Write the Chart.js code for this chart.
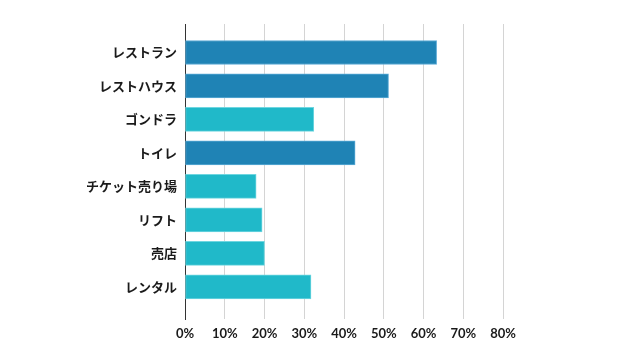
<!DOCTYPE html>
<html>
<head>
<meta charset="utf-8">
<script src="https://cdn.jsdelivr.net/npm/chart.js@4.4.1/dist/chart.umd.min.js"></script>
<style>
  html, body { margin: 0; padding: 0; background: #ffffff; }
  #wrap { width: 640px; height: 350px; }
</style>
</head>
<body>
<div id="wrap"><canvas id="c" width="640" height="350"></canvas></div>
<script>
// ---- data ----
const categories = ["レストラン", "レストハウス", "ゴンドラ", "トイレ", "チケット売り場", "リフト", "売店", "レンタル"];
const percentValues = [63.3, 51.2, 32.4, 42.8, 17.9, 19.4, 20.0, 31.7];
const highlighted = [true, true, false, true, false, false, false, false];
const xTickValues = [0, 10, 20, 30, 40, 50, 60, 70, 80];

// ---- styles ----
const DARK = '#1f83b5', DARK_EDGE = '#5cabd6';
const LIGHT = '#20b9c9', LIGHT_EDGE = '#6fd6e0';

const points = percentValues.map((v, i) => ({ x: v, y: i }));

new Chart(document.getElementById('c'), {
  type: 'bar',
  data: {
    datasets: [{
      data: points,
      backgroundColor: highlighted.map(h => h ? DARK : LIGHT),
      borderColor: highlighted.map(h => h ? DARK_EDGE : LIGHT_EDGE),
      borderWidth: 1,
      borderSkipped: false,
      barThickness: 24
    }]
  },
  options: {
    indexAxis: 'y',
    responsive: false,
    animation: false,
    events: [],
    layout: { padding: { top: 24, right: 137, bottom: 0, left: 0 } },
    plugins: { legend: { display: false }, tooltip: { enabled: false } },
    scales: {
      x: {
        type: 'linear',
        min: xTickValues[0],
        max: xTickValues[xTickValues.length - 1],
        afterFit: s => { s.height = 31; },
        afterBuildTicks: s => { s.ticks = xTickValues.map(v => ({ value: v })); },
        grid: {
          color: ctx => (ctx.tick && ctx.tick.value === 0) ? 'rgba(0,0,0,0)' : '#d4d4d4',
          lineWidth: 1,
          drawTicks: false
        },
        border: { display: false },
        ticks: {
          padding: 7,
          color: '#1a1a1a',
          font: { family: 'Lato, Roboto, sans-serif', size: 13, weight: 'bold' },
          callback: v => v + '%'
        }
      },
      y: {
        type: 'linear',
        reverse: true,
        offset: false,
        min: -0.85,
        max: 7.96,
        afterFit: s => { s.width = 185; },
        afterBuildTicks: s => { s.ticks = categories.map((c, i) => ({ value: i })); },
        grid: { display: false, drawTicks: false, offset: false },
        border: { display: true, color: '#333', width: 1 },
        ticks: {
          autoSkip: false,
          padding: 8,
          color: '#1a1a1a',
          font: { family: '"Noto Sans CJK JP", sans-serif', size: 13, weight: 'bold' },
          callback: v => categories[v]
        }
      }
    }
  }
});
</script>
</body>
</html>
